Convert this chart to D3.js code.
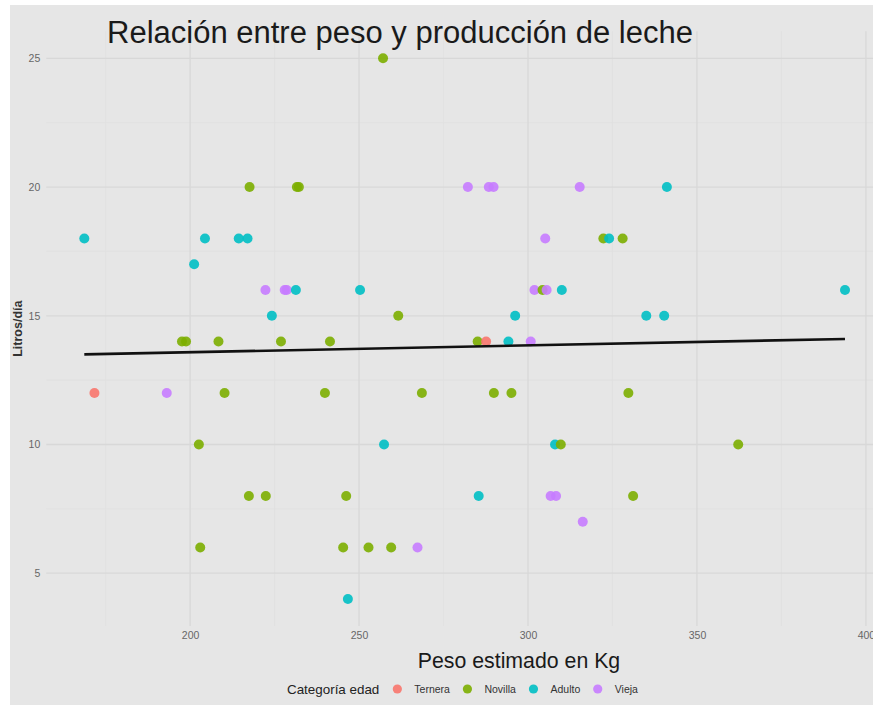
<!DOCTYPE html>
<html>
<head>
<meta charset="utf-8">
<script src="https://cdn.jsdelivr.net/npm/d3@7"></script>
<style>
  html, body { margin: 0; padding: 0; background: #ffffff; }
  svg { display: block; font-family: "Liberation Sans", Arial, sans-serif; }
</style>
</head>
<body>
<svg id="chart" width="873" height="707"></svg>
<script>
// ---- data ----
const categories = ["Ternera", "Novilla", "Adulto", "Vieja"];

const ternera_peso   = [171.7, 287.6];
const ternera_litros = [12, 14];

const novilla_peso   = [257.1, 217.6, 231.6, 232.2, 322.3, 328.0, 304.3, 261.6, 197.6, 198.8,
                        208.4, 226.9, 241.4, 285.1, 210.2, 239.9, 268.6, 289.9, 295.1, 329.7,
                        202.6, 309.7, 362.2, 217.4, 222.4, 246.2, 331.1, 203.0, 245.3, 252.8, 259.5];
const novilla_litros = [25, 20, 20, 20, 18, 18, 16, 15, 14, 14,
                        14, 14, 14, 14, 12, 12, 12, 12, 12, 12,
                        10, 10, 10, 8, 8, 8, 8, 6, 6, 6, 6];

const adulto_peso    = [168.7, 204.4, 214.4, 217.0, 201.2, 231.3, 224.2, 250.3, 310.0, 296.2,
                        341.1, 324.0, 393.8, 335.0, 340.3, 294.2, 257.4, 308.0, 285.4, 246.7];
const adulto_litros  = [18, 18, 18, 18, 17, 16, 15, 16, 16, 15,
                        20, 18, 16, 15, 15, 14, 10, 10, 8, 4];

const vieja_peso     = [282.2, 288.4, 289.8, 315.3, 305.1, 222.3, 228.0, 228.6, 301.9, 305.5,
                        300.8, 193.1, 306.7, 308.3, 316.2, 267.3];
const vieja_litros   = [20, 20, 20, 20, 18, 16, 16, 16, 16, 16,
                        14, 12, 8, 8, 7, 6];

// fitted linear trend (geom_smooth method = "lm"), endpoints
const fit_peso   = [168.7, 393.8];
const fit_litros = [13.50, 14.10];

const xTicks = [200, 250, 300, 350, 400];
const yTicks = [5, 10, 15, 20, 25];
const xMinor = [175, 225, 275, 325, 375];
const yMinor = [7.5, 12.5, 17.5, 22.5];

const titleText = "Relación entre peso y producción de leche";
const xTitle = "Peso estimado en Kg";
const yTitle = "Litros/día";
const legendTitle = "Categoría edad";

// ---- assemble ----
const series = {
  "Ternera": [ternera_peso, ternera_litros],
  "Novilla": [novilla_peso, novilla_litros],
  "Adulto":  [adulto_peso, adulto_litros],
  "Vieja":   [vieja_peso, vieja_litros]
};
const points = [];
categories.forEach(c => {
  const [px, py] = series[c];
  px.forEach((v, i) => points.push({cat: c, peso: v, litros: py[i]}));
});
points.sort((a, b) => d3.ascending(a.litros, b.litros) || d3.ascending(a.peso, b.peso));

const svg = d3.select("#chart");
const W = 873, H = 707;

// background
svg.append("rect").attr("x", 10).attr("y", 5).attr("width", W - 10).attr("height", 700)
  .attr("fill", "#e6e6e6");

const panel = {left: 46.3, right: 883, top: 31.3, bottom: 626};

const x = d3.scaleLinear().domain([157.45, 405.05]).range([panel.left, panel.right]);
const y = d3.scaleLinear().domain([2.95, 26.05]).range([panel.bottom, panel.top]);

const color = d3.scaleOrdinal().domain(categories)
  .range(["#F8766D", "#7CAE00", "#00BFC4", "#C77CFF"]);

// grid
const grid = svg.append("g");
grid.selectAll(".ymin").data(yMinor).join("line")
  .attr("x1", panel.left).attr("x2", W).attr("y1", d => y(d)).attr("y2", d => y(d))
  .attr("stroke", "#dfdfdf").attr("stroke-width", 0.8);
grid.selectAll(".xmin").data(xMinor).join("line")
  .attr("y1", panel.top).attr("y2", panel.bottom).attr("x1", d => x(d)).attr("x2", d => x(d))
  .attr("stroke", "#dfdfdf").attr("stroke-width", 0.8);
grid.selectAll(".ymaj").data(yTicks).join("line")
  .attr("x1", panel.left).attr("x2", W).attr("y1", d => y(d)).attr("y2", d => y(d))
  .attr("stroke", "#d8d8d8").attr("stroke-width", 1.3);
grid.selectAll(".xmaj").data(xTicks).join("line")
  .attr("y1", panel.top).attr("y2", panel.bottom).attr("x1", d => x(d)).attr("x2", d => x(d))
  .attr("stroke", "#d8d8d8").attr("stroke-width", 1.3);

// axes
const xAxis = svg.append("g").attr("transform", `translate(0,${panel.bottom})`)
  .call(d3.axisBottom(x).tickValues(xTicks).tickSize(0).tickPadding(6));
const yAxis = svg.append("g").attr("transform", `translate(${panel.left},0)`)
  .call(d3.axisLeft(y).tickValues(yTicks).tickSize(0).tickPadding(6));
[xAxis, yAxis].forEach(a => {
  a.select(".domain").remove();
  a.selectAll("text").attr("fill", "#666").style("font-size", "10.5px")
    .style("font-family", "'Liberation Sans', Arial, sans-serif");
});

// points
svg.append("g").selectAll("circle").data(points).join("circle")
  .attr("cx", d => x(d.peso)).attr("cy", d => y(d.litros)).attr("r", 5)
  .attr("fill", d => color(d.cat)).attr("fill-opacity", 0.9);

// trend line
const fit = fit_peso.map((v, i) => [v, fit_litros[i]]);
svg.append("path").datum(fit)
  .attr("d", d3.line().x(d => x(d[0])).y(d => y(d[1])))
  .attr("stroke", "#111").attr("stroke-width", 2.6).attr("fill", "none");

// titles
svg.append("text").attr("x", 107).attr("y", 43).text(titleText)
  .attr("font-size", 31).attr("fill", "#1a1a1a");
svg.append("text").attr("x", 519).attr("y", 668).attr("text-anchor", "middle").text(xTitle)
  .attr("font-size", 21.3).attr("fill", "#1a1a1a");
svg.append("text").attr("transform", `translate(22,${(panel.top + panel.bottom) / 2}) rotate(-90)`)
  .attr("text-anchor", "middle").text(yTitle)
  .attr("font-size", 12.5).attr("font-weight", "bold").attr("fill", "#333");

// legend
const leg = svg.append("g").attr("transform", "translate(0,689)");
const lt = leg.append("text").attr("x", 287).attr("y", 0).attr("dy", "0.35em")
  .text(legendTitle).attr("font-size", 13.4).attr("fill", "#222");
let cursor = 287 + lt.node().getComputedTextLength() + 18;
categories.forEach(c => {
  leg.append("circle").attr("cx", cursor).attr("cy", 0).attr("r", 4.6)
    .attr("fill", color(c)).attr("fill-opacity", 0.9);
  const t = leg.append("text").attr("x", cursor + 17).attr("y", 0).attr("dy", "0.35em")
    .text(c).attr("font-size", 10.5).attr("fill", "#333");
  cursor = cursor + 17 + t.node().getComputedTextLength() + 17.5;
});
</script>
</body>
</html>
